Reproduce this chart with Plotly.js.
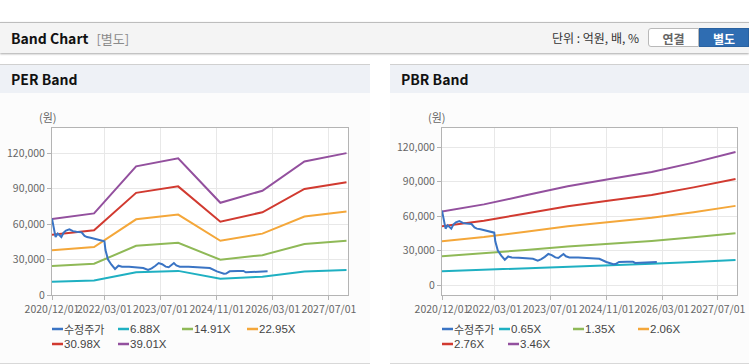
<!DOCTYPE html>
<html><head><meta charset="utf-8">
<script src="https://cdn.plot.ly/plotly-3.0.1.min.js"></script>
<style>
html,body{margin:0;padding:0;width:749px;height:364px;overflow:hidden;background:#fff;font-family:"Noto Sans CJK KR","Liberation Sans",sans-serif;}
#hdr{position:absolute;left:0;top:22px;width:749px;height:30px;background:#f4f4f4;border-top:1px solid #bdbdbd;box-shadow:0 1px 2px rgba(0,0,0,0.35);}
#hdr .t{position:absolute;left:11px;top:0;height:30px;line-height:30px;font-size:14px;font-weight:bold;color:#111;}
#hdr .t span{font-weight:normal;color:#8a8a8a;margin-left:8px;font-size:13px;}
#hdr .u{position:absolute;left:552px;top:0;height:30px;line-height:30px;font-size:12px;color:#333;}
.btn{position:absolute;top:5px;height:19px;line-height:19px;font-size:12px;font-weight:bold;text-align:center;box-sizing:border-box;}
#b1{left:648px;width:51px;background:#fff;border:1px solid #b9b9b9;border-radius:3px 0 0 3px;color:#666;}
#b2{left:699px;width:50px;background:#2f6db2;border:1px solid #2a62a0;color:#fff;}
.panel{position:absolute;top:64px;height:298px;background:#fcfcfc;border-top:1px solid #d0d0d0;border-bottom:1px solid #d8d8d8;}
.ph{position:absolute;left:0;top:0;right:0;height:28px;background:#eef1f6;}
.ph div{position:absolute;left:11px;top:0;height:28px;line-height:28px;font-size:14px;font-weight:bold;color:#111;}
.chart{position:absolute;top:93px;height:269px;}
</style></head>
<body>
<div id="hdr"><div class="t">Band Chart<span>[별도]</span></div><div class="u">단위 : 억원, 배, %</div><div class="btn" id="b1">연결</div><div class="btn" id="b2">별도</div></div>
<div class="panel" style="left:0;width:370px;"><div class="ph"><div>PER Band</div></div></div>
<div class="panel" style="left:390px;width:359px;"><div class="ph"><div>PBR Band</div></div></div>
<div id="per" class="chart" style="left:0;width:370px;"></div>
<div id="pbr" class="chart" style="left:390px;width:359px;"></div>
<script>
// ---- data ----
const tickDates = ['2020-12-01','2022-03-01','2023-07-01','2024-11-01','2026-03-01','2027-07-01'];
const tickLabels = ['2020/12/01','2022/03/01','2023/07/01','2024/11/01','2026/03/01','2027/07/01'];
const yTicks = [0, 30000, 60000, 90000, 120000];
const yTickLabels = ['0','30,000','60,000','90,000','120,000'];

const bandDates = ['2020-12-01','2021-12-01','2022-12-01','2023-12-01','2024-12-01','2025-12-01','2026-12-01','2027-12-01'];

const perNames = ['수정주가','6.88X','14.91X','22.95X','30.98X','39.01X'];
const per688  = [11300, 12200, 19200, 20400, 13800, 15500, 19900, 21200];
const per1491 = [24500, 26400, 41600, 44200, 29800, 33700, 43200, 45900];
const per2295 = [37800, 40600, 64000, 68000, 45900, 51900, 66400, 70600];
const per3098 = [51000, 54800, 86400, 91900, 62000, 70000, 89700, 95300];
const per3901 = [64200, 69000, 108800, 115700, 78000, 88200, 112900, 120000];

const pbrNames = ['수정주가','0.65X','1.35X','2.06X','2.76X','3.46X'];
const pbr065 = [12000, 13200, 14700, 16100, 17300, 18400, 20000, 21700];
const pbr135 = [25000, 27400, 30400, 33500, 35900, 38300, 41500, 45100];
const pbr206 = [38100, 41800, 46400, 51100, 54800, 58500, 63300, 68800];
const pbr276 = [51100, 55900, 62200, 68400, 73500, 78300, 84900, 92200];
const pbr346 = [64000, 70100, 78000, 85800, 92100, 98200, 106400, 115600];

const priceDates = ['2020-12-01','2020-12-15','2021-01-01','2021-01-20','2021-02-05','2021-02-20','2021-03-10','2021-04-01','2021-05-01','2021-06-01','2021-07-01','2021-08-15','2021-09-10','2021-10-01','2021-11-01','2021-12-15','2022-02-01','2022-03-01','2022-03-10','2022-04-01','2022-05-01','2022-06-01','2022-07-01','2022-08-01','2022-10-01','2022-12-01','2023-02-01','2023-03-15','2023-04-15','2023-05-15','2023-06-15','2023-07-15','2023-08-15','2023-09-10','2023-10-01','2023-10-25','2023-11-15','2023-12-15','2024-03-01','2024-06-01','2024-09-01','2024-11-01','2024-12-10','2025-01-01','2025-01-20','2025-02-20','2025-05-01','2025-06-20','2025-07-10','2025-09-01','2025-10-10','2025-12-01','2026-01-15'];
const priceValues = [64600, 57500, 49000, 52000, 50500, 49000, 52500, 54500, 55500, 54000, 53500, 53000, 50000, 49000, 48500, 47200, 46000, 45500, 38000, 30000, 25600, 22000, 24800, 24000, 23800, 23600, 22800, 21200, 22500, 24500, 27000, 26000, 24000, 23500, 25500, 27000, 25000, 24000, 24000, 23700, 22800, 20000, 18600, 18000, 18200, 20000, 20200, 20300, 19200, 19400, 19700, 19600, 20000];

const colors = ['#3a74c4','#1fb0c2','#8fb957','#f4a73a','#d13a30','#93509e'];

// ---- drawing ----
const tickFont = {family:'"Noto Sans CJK KR","Liberation Sans",sans-serif', size:10.5, color:'#666'};
const legFontKo = {family:'"Noto Sans CJK KR",sans-serif', size:11, color:'#444'};
const legFont = {family:'"Liberation Sans","Noto Sans CJK KR",sans-serif', size:11.5, color:'#444'};

function makeChart(id, divLeft, divW, margin, yRange, names, bands, legendPos, unitX) {
  const plotL = divLeft + margin.l, plotW = divW - margin.l - margin.r;
  const plotT = 93 + margin.t, plotH = 269 - margin.t - margin.b;
  const px = x => (x - plotL) / plotW;
  const py = y => (plotT + plotH - y) / plotH;
  const traces = [{x: priceDates, y: priceValues, type:'scatter', mode:'lines', name: names[0], line:{color:colors[0], width:2}}];
  bands.forEach((b, i) => traces.push({x: bandDates, y: b, type:'scatter', mode:'lines', name: names[i+1], line:{color:colors[i+1], width:2}}));
  const ordered = traces.slice(1).concat([traces[0]]);
  const shapes = [], annotations = [];
  names.forEach((n, i) => {
    const [sx, sy] = legendPos[i];
    shapes.push({type:'line', xref:'paper', yref:'paper', x0:px(sx), x1:px(sx+11), y0:py(sy), y1:py(sy), line:{color:colors[i], width:2.5}});
    annotations.push({xref:'paper', yref:'paper', x:px(sx+12), y:py(sy), xanchor:'left', yanchor:'middle', showarrow:false, borderpad:0, borderwidth:0, text:n, font:(i === 0 ? legFontKo : legFont)});
  });
  annotations.push({xref:'paper', yref:'paper', x:px(unitX), y:py(117), xanchor:'center', yanchor:'middle', showarrow:false, text:'(원)', font:{family:'"Noto Sans CJK KR",sans-serif', size:11, color:'#666'}});
  const axBase = {showline:true, linecolor:'#b4b4b4', linewidth:1, mirror:true, showgrid:true, gridcolor:'#e8e8e8', gridwidth:1, zeroline:false, ticks:'outside', ticklen:4, tickcolor:'#b4b4b4', tickfont:tickFont};
  const layout = {
    width: divW, height: 269, margin: margin, showlegend:false,
    paper_bgcolor:'rgba(0,0,0,0)', plot_bgcolor:'#ffffff',
    xaxis: Object.assign({}, axBase, {type:'date', range:['2020-12-01','2027-12-14'], tickmode:'array', tickvals:tickDates, ticktext:tickLabels, tickangle:0}),
    yaxis: Object.assign({}, axBase, {range:yRange, tickmode:'array', tickvals:yTicks, ticktext:yTickLabels}),
    shapes: shapes, annotations: annotations
  };
  Plotly.newPlot(id, ordered, layout, {staticPlot:true, displayModeBar:false});
}

makeChart('per', 0, 370, {l:52, r:22, t:35, b:67}, [0, 141270], perNames,
  [per688, per1491, per2295, per3098, per3901],
  [[52,329],[118,329],[182,329],[247,329],[52,344],[118,344]], 47.5);
makeChart('pbr', 390, 359, {l:52, r:12, t:35, b:67}, [-8700, 136520], pbrNames,
  [pbr065, pbr135, pbr206, pbr276, pbr346],
  [[442,329],[499,329],[573,329],[638,329],[442,344],[508,344]], 437);
</script>
</body></html>
